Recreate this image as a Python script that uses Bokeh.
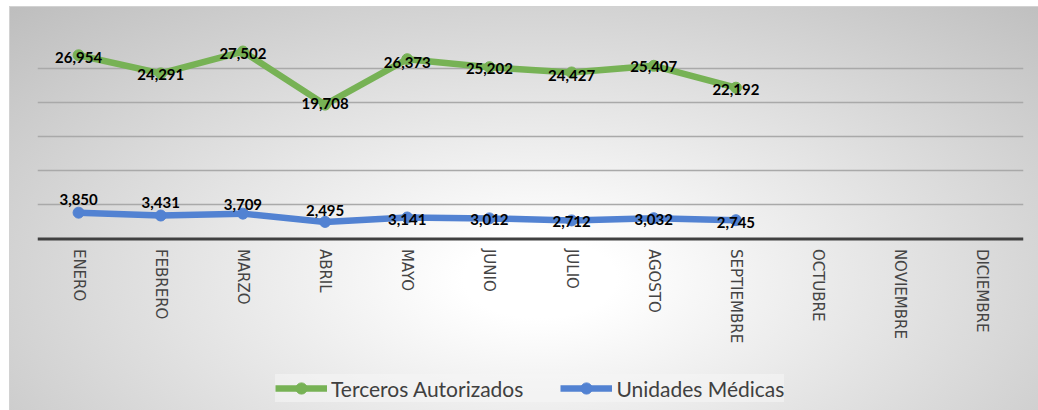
import math
from bokeh.plotting import figure
from bokeh.models import (ColumnDataSource, FactorRange, Range1d, FixedTicker, Legend,
                          LegendItem, Span)
from bokeh.core.properties import value
from bokeh.embed import file_html
from bokeh.resources import INLINE

# ---- data ----
months = ["ENERO", "FEBRERO", "MARZO", "ABRIL", "MAYO", "JUNIO", "JULIO",
          "AGOSTO", "SEPTIEMBRE", "OCTUBRE", "NOVIEMBRE", "DICIEMBRE"]
data_months = months[:9]
terceros = [26954, 24291, 27502, 19708, 26373, 25202, 24427, 25407, 22192]
unidades = [3850, 3431, 3709, 2495, 3141, 3012, 2712, 3032, 2745]
grid_ticks = [5000, 10000, 15000, 20000, 25000, 30000]
y_max = 30000

# ---- layout / styles ----
GREEN = "#77B255"
BLUE = "#5282D2"
green_label_dy = [2, 1, 2, -1, 3, 1, 3, 1, 2]        # screen px, + = down
blue_label_dy = [-13, -13, -9, -11, 2, 1, 1, 1, 2]
TOP, PLOT_H, FRAME_H = 34, 204.4, 376                # plot area of the value axis / frame (px)
y_start = y_max - FRAME_H / PLOT_H * y_max           # frame extends below zero for the labels

p = figure(frame_width=986, frame_height=FRAME_H, x_range=FactorRange(*months, range_padding=0),
           y_range=Range1d(y_start, y_max), output_backend="svg", toolbar_location=None,
           min_border_left=37, min_border_right=15, min_border_top=TOP, min_border_bottom=0)
p.background_fill_alpha = 0
p.border_fill_alpha = 0
p.outline_line_color = None
p.styles = {
    "background": "radial-gradient(ellipse farthest-corner at 52% 68%, #ffffff 0%, #ffffff 10%, #bcbcbc 100%)",
    "box-shadow": "inset 9px 6px 0 #ffffff, inset 10px 7px 0 #d2d2d2",
}

p.xaxis.visible = False
p.yaxis.visible = False
p.ygrid.ticker = FixedTicker(ticks=grid_ticks)
p.ygrid.grid_line_color = "#a9a9a9"
p.ygrid.grid_line_width = 1.3
p.xgrid.grid_line_color = None

# category axis baseline at zero
p.add_layout(Span(location=0, dimension="width", line_color="#404040", line_width=3))

# category labels (rotated, reading top to bottom)
p.text(x=months, y=[0] * len(months), text=months, angle=-math.pi / 2,
       y_offset=10, text_align="left", text_baseline="middle",
       text_font=value("DejaVu Sans"), text_font_size="15px", text_color="#444444")

src_g = ColumnDataSource(dict(x=data_months, y=terceros,
                              t=[f"{v:,}" for v in terceros], dy=green_label_dy))
src_b = ColumnDataSource(dict(x=data_months, y=unidades,
                              t=[f"{v:,}" for v in unidades], dy=blue_label_dy))

lg = p.line("x", "y", source=src_g, line_color=GREEN, line_width=6.5, line_join="round")
mg = p.scatter("x", "y", source=src_g, size=11, fill_color=GREEN, line_color=GREEN)
lb = p.line("x", "y", source=src_b, line_color=BLUE, line_width=6.5, line_join="round")
mb = p.scatter("x", "y", source=src_b, size=11, fill_color=BLUE, line_color=BLUE)

for src in (src_g, src_b):
    p.text("x", "y", text="t", source=src, y_offset="dy", text_align="center",
           text_baseline="middle", text_font=value("Lato"), text_font_style="bold",
           text_font_size="15px", text_color="#000000")

legend = Legend(items=[LegendItem(label="Terceros Autorizados", renderers=[lg, mg]),
                       LegendItem(label="Unidades Médicas", renderers=[lb, mb])],
                orientation="horizontal", location=(238, 8), margin=0, padding=7,
                glyph_width=52, glyph_height=28, label_standoff=4, spacing=37,
                label_text_font="Lato", label_text_font_size="21px",
                label_text_color="#404040", label_text_baseline="middle",
                background_fill_color="#f5f5f5", background_fill_alpha=0.6,
                border_line_color=None)
p.add_layout(legend, "center")

open("out.html", "w").write(file_html(p, INLINE))
